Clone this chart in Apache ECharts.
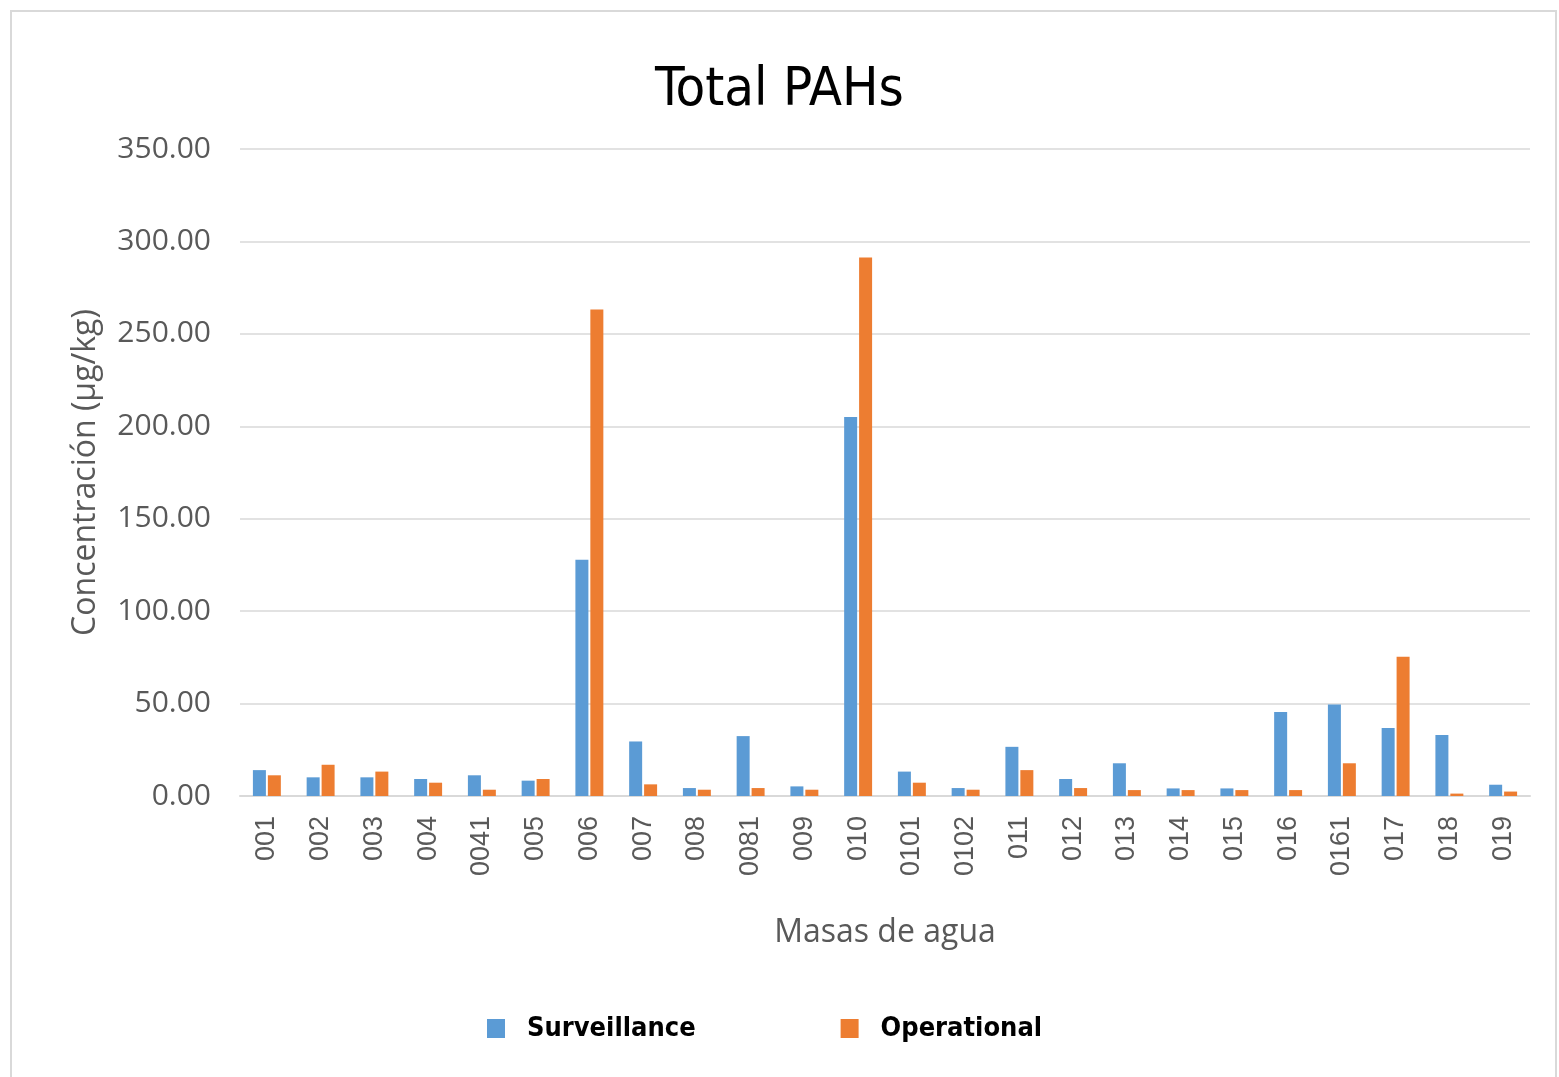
<!DOCTYPE html>
<html>
<head>
<meta charset="utf-8">
<script src="https://cdn.jsdelivr.net/npm/echarts@6/dist/echarts.min.js"></script>
<style>html,body{margin:0;padding:0;background:#fff;}#c{width:1559px;height:1077px;}</style>
</head>
<body>
<div id="c"></div>
<script>
const categories = ['001','002','003','004','0041','005','006','007','008','0081','009','010','0101','0102','011','012','013','014','015','016','0161','017','018','019'];
const surveillance = [14.0,10.1,10.1,9.2,11.2,8.3,127.8,29.5,4.3,32.4,5.2,205.0,13.2,4.3,26.6,9.2,17.7,4.1,4.1,45.5,49.5,36.8,33.0,6.1];
const operational = [11.2,16.9,13.2,7.2,3.4,9.2,263.2,6.3,3.4,4.3,3.4,291.3,7.2,3.4,14.0,4.3,3.2,3.2,3.2,3.2,17.7,75.3,1.3,2.4];
const yTicks = [0,50,100,150,200,250,300,350];

const chart = echarts.init(document.getElementById('c'), null, {renderer:'canvas'});
chart.setOption({
  backgroundColor:'#fff',
  animation:false,
  graphic:[{type:'rect',shape:{x:11,y:11,width:1545,height:1070},style:{fill:'none',stroke:'#d9d9d9',lineWidth:2}}],
  title:{text:'Total PAHs',left:'center',top:59,textStyle:{fontFamily:'DejaVu Sans Condensed, DejaVu Sans',fontSize:54,fontWeight:'normal',color:'#000'}},
  legend:{left:482,top:1010,itemWidth:18,itemHeight:19,itemGap:145,icon:'rect',
    textStyle:{fontFamily:'DejaVu Sans Condensed, DejaVu Sans',fontWeight:'bold',fontSize:27,color:'#000',padding:[0,0,0,17]}},
  grid:{left:240,right:29,top:149,bottom:281},
  xAxis:{type:'category',data:categories,
    name:'Masas de agua',nameLocation:'middle',nameGap:121,
    nameTextStyle:{fontFamily:'Open Sans',fontSize:32,color:'#595959'},
    axisLine:{lineStyle:{color:'#d9d9d9',width:2}},axisTick:{show:false},
    axisLabel:{rotate:90,margin:20,fontFamily:'Liberation Sans',fontSize:27,color:'#595959',interval:0}},
  yAxis:{type:'value',min:yTicks[0],max:yTicks[yTicks.length-1],interval:50,
    name:'Concentración (µg/kg)',nameLocation:'middle',nameGap:138,
    nameTextStyle:{fontFamily:'Open Sans',fontSize:32,color:'#595959'},
    axisLine:{show:false},axisTick:{show:false},
    splitLine:{lineStyle:{color:'#d9d9d9',width:1.5}},
    axisLabel:{margin:29,fontFamily:'Open Sans',fontSize:30,color:'#595959',formatter:v=>v.toFixed(2)}},
  series:[
    {name:'Surveillance',type:'bar',data:surveillance,barWidth:13,barGap:'15%',itemStyle:{color:'#5b9bd5'}},
    {name:'Operational',type:'bar',data:operational,barWidth:13,barGap:'15%',itemStyle:{color:'#ed7d31'}}
  ]
});
</script>
</body>
</html>
